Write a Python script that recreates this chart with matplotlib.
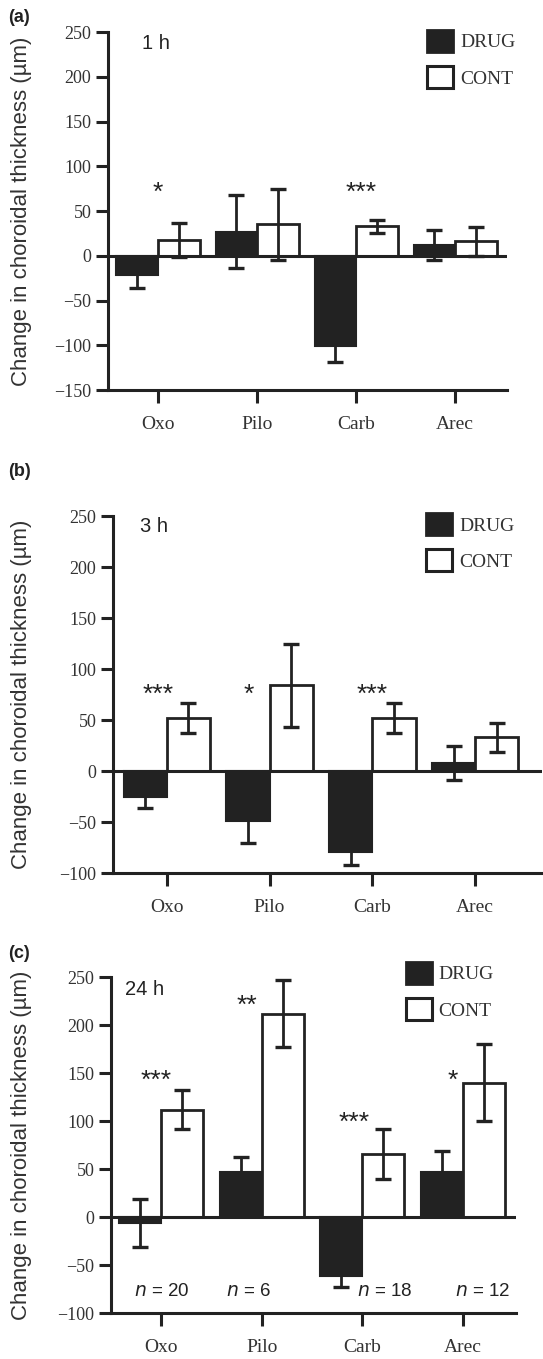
import matplotlib.pyplot as plt
import numpy as np
from matplotlib.patches import Patch

drugs = ["Oxo", "Pilo", "Carb", "Arec"]

# (a) 1 h
drug_1h = [-22, 27, -101, 12]
drug_1h_err = [14, 41, 18, 17]
cont_1h = [18, 35, 33, 16]
cont_1h_err = [19, 40, 7, 16]
stars_1h = ["*", "", "***", ""]

# (b) 3 h
drug_3h = [-25, -49, -79, 8]
drug_3h_err = [11, 22, 13, 17]
cont_3h = [52, 84, 52, 33]
cont_3h_err = [15, 41, 15, 14]
stars_3h = ["***", "*", "***", ""]

# (c) 24 h
drug_24h = [-6, 47, -61, 47]
drug_24h_err = [25, 16, 12, 22]
cont_24h = [112, 212, 66, 140]
cont_24h_err = [20, 35, 26, 40]
stars_24h = ["***", "**", "***", "*"]
n_labels = ["20", "6", "18", "12"]

SERIF = "Liberation Serif"
SANS = "Liberation Sans"
TXT = "#333333"
INK = "#222222"

fig = plt.figure(figsize=(5.43, 13.59), dpi=100)

panels = [
    dict(rect=[0.199, 0.713, 0.735, 0.2634], ylim=(-150, 250), yt=range(-150, 251, 50),
         xlim=(-0.505, 3.525), letter="(a)", ly=17, time="1 h", tpos=(0.085, 0.969),
         leg=(0.80, 1.006), labx=-0.19,
         d=drug_1h, de=drug_1h_err, c=cont_1h, ce=cont_1h_err, s=stars_1h,
         sx=[0, 0, 0.05, 0], sy=[70, 70, 70, 70]),
    dict(rect=[0.208, 0.3576, 0.79, 0.2627], ylim=(-100, 250), yt=range(-100, 251, 50),
         xlim=(-0.524, 3.65), letter="(b)", ly=472, time="3 h", tpos=(0.063, 0.972),
         leg=(0.73, 1.008), labx=-0.188,
         d=drug_3h, de=drug_3h_err, c=cont_3h, ce=cont_3h_err, s=stars_3h,
         sx=[-0.08, -0.2, 0, 0], sy=[75, 75, 75, 75]),
    dict(rect=[0.2044, 0.0338, 0.746, 0.2472], ylim=(-100, 250), yt=range(-100, 251, 50),
         xlim=(-0.5, 3.53), letter="(c)", ly=953, time="24 h", tpos=(0.035, 0.964),
         leg=(0.728, 1.045), labx=-0.195,
         d=drug_24h, de=drug_24h_err, c=cont_24h, ce=cont_24h_err, s=stars_24h,
         sx=[-0.05, -0.15, -0.08, -0.1], sy=[142, 220, 98, 142],
         nx=[0.0, -0.13, 0.22, 0.2]),
]

x = np.arange(len(drugs))
w = 0.42
for i, p in enumerate(panels):
    ax = fig.add_axes(p["rect"])
    ax.bar(x - w / 2, p["d"], w, color=INK, edgecolor=INK, linewidth=1.5, zorder=2)
    ax.bar(x + w / 2, p["c"], w, color="white", edgecolor=INK, linewidth=2.0, zorder=2)
    ax.errorbar(x - w / 2, p["d"], yerr=p["de"], fmt="none", ecolor=INK,
                elinewidth=2.0, capsize=6, capthick=2.4, zorder=3)
    ax.errorbar(x + w / 2, p["c"], yerr=p["ce"], fmt="none", ecolor=INK,
                elinewidth=2.0, capsize=6, capthick=2.4, zorder=3)
    ax.axhline(0, color=INK, lw=2.2, zorder=4)

    ax.set_xlim(*p["xlim"])
    ax.set_ylim(*p["ylim"])
    ax.set_yticks(list(p["yt"]))
    ax.set_yticklabels([str(v).replace("-", "\u2212") for v in p["yt"]],
                       family=SERIF, fontsize=13, color=TXT)
    ax.set_xticks(x)
    ax.set_xticklabels(drugs, family=SERIF, fontsize=14, color=TXT)
    ax.tick_params(axis="y", direction="out", length=9, width=2.2, pad=3, color=INK)
    ax.tick_params(axis="x", direction="out", length=9, width=2.2, pad=9.5, color=INK)
    for side in ["top", "right"]:
        ax.spines[side].set_visible(False)
    for side in ["left", "bottom"]:
        ax.spines[side].set_linewidth(2.2)
        ax.spines[side].set_color(INK)

    ax.set_ylabel("Change in choroidal thickness (\u00b5m)", family=SANS, fontsize=16, color=TXT)
    ax.yaxis.set_label_coords(p["labx"], 0.5)

    ax.text(p["tpos"][0], p["tpos"][1], p["time"], transform=ax.transAxes, family=SANS,
            fontsize=14.5, color=INK, va="center", ha="left")

    for j, s in enumerate(p["s"]):
        if s:
            ax.text(x[j] + p["sx"][j], p["sy"][j], s, family=SANS, fontsize=19,
                    ha="center", va="center", color=INK)

    handles = [Patch(facecolor=INK, edgecolor=INK, linewidth=2.0),
               Patch(facecolor="white", edgecolor=INK, linewidth=2.2)]
    ax.legend(handles, ["DRUG", "CONT"], loc="upper left", bbox_to_anchor=p["leg"],
              frameon=False, borderpad=0, borderaxespad=0, handlelength=1.34,
              handleheight=1.34, handletextpad=0.35, labelspacing=0.75,
              prop=dict(family=SERIF, size=14), labelcolor=TXT)

    fig.text(0.015, 1 - p["ly"] / 1359, p["letter"], family=SANS, fontweight="bold",
             fontsize=13, color=INK, va="center", ha="left")

    if "nx" in p:
        for j, n in enumerate(n_labels):
            ax.text(x[j] + p["nx"][j], -78, "$\\it{n}$ = " + n, family=SANS,
                    fontsize=13.5, ha="center", va="center", color=INK)

fig.savefig("out.png", dpi=100)
